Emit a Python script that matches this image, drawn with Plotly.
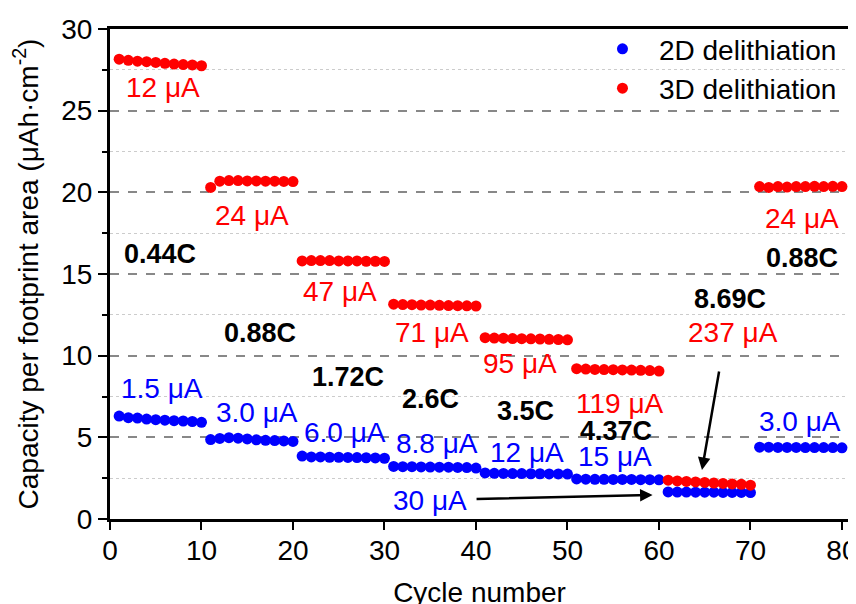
import plotly.graph_objects as go

cycles = list(range(1, 81))

cap_3d = [28.15, 28.08, 28.03, 28.0, 27.95, 27.9, 27.85, 27.82, 27.8, 27.75,
          20.3, 20.68, 20.72, 20.72, 20.7, 20.7, 20.68, 20.68, 20.67, 20.66,
          15.8, 15.82, 15.82, 15.82, 15.8, 15.8, 15.8, 15.78, 15.78, 15.77,
          13.15, 13.13, 13.12, 13.1, 13.1, 13.08, 13.07, 13.06, 13.05, 13.04,
          11.1, 11.08, 11.07, 11.05, 11.04, 11.03, 11.02, 11.0, 10.99, 10.97,
          9.2, 9.18, 9.16, 9.15, 9.14, 9.13, 9.12, 9.1, 9.09, 9.06,
          2.38, 2.33, 2.3, 2.27, 2.24, 2.2, 2.18, 2.15, 2.12, 2.07,
          20.35, 20.3, 20.35, 20.32, 20.35, 20.35, 20.37, 20.35, 20.37, 20.35]

cap_2d = [6.3, 6.2, 6.18, 6.12, 6.08, 6.05, 6.02, 6.0, 5.97, 5.92,
          4.86, 4.93, 4.98, 4.95, 4.9, 4.85, 4.82, 4.8, 4.78, 4.75,
          3.85, 3.8, 3.8, 3.78, 3.78, 3.77, 3.76, 3.75, 3.74, 3.72,
          3.22, 3.2, 3.2, 3.19, 3.18, 3.17, 3.17, 3.16, 3.15, 3.12,
          2.82, 2.8, 2.79, 2.78, 2.78, 2.77, 2.77, 2.76, 2.76, 2.75,
          2.45, 2.44, 2.43, 2.43, 2.42, 2.42, 2.42, 2.41, 2.41, 2.4,
          1.66, 1.65, 1.65, 1.64, 1.64, 1.64, 1.63, 1.63, 1.63, 1.62,
          4.4, 4.4, 4.38, 4.38, 4.38, 4.37, 4.37, 4.37, 4.37, 4.36]

# label text, x, y (data coordinates)
labels_3d = [("12 μA", 5.8, 26.4), ("24 μA", 15.5, 18.6), ("47 μA", 25.1, 13.9),
             ("71 μA", 35.2, 11.4), ("95 μA", 44.8, 9.55), ("119 μA", 55.7, 7.1),
             ("237 μA", 68.1, 11.4), ("24 μA", 75.6, 18.4)]
labels_2d = [("1.5 μA", 5.7, 8.0), ("3.0 μA", 16.1, 6.5), ("6.0 μA", 25.7, 5.27),
             ("8.8 μA", 35.7, 4.65), ("12 μA", 45.6, 4.1), ("15 μA", 55.2, 3.8),
             ("30 μA", 35.0, 1.16), ("3.0 μA", 75.4, 5.94)]
labels_rate = [("0.44C", 5.5, 16.2), ("0.88C", 16.4, 11.4), ("1.72C", 26.0, 8.7),
               ("2.6C", 35.0, 7.35), ("3.5C", 45.4, 6.6), ("4.37C", 55.3, 5.4),
               ("8.69C", 67.8, 13.5), ("0.88C", 75.6, 16.0)]
# arrows: (tail x, tail y, head x, head y)
arrows = [(39.9, 1.22, 59.3, 1.47), (66.6, 9.12, 64.7, 3.0)]

FONT = "Liberation Sans, Arial, sans-serif"

fig = go.Figure()
fig.add_trace(go.Scatter(x=cycles, y=cap_2d, mode="markers", name="2D delithiation",
                         marker=dict(color="#0000FF", size=11)))
fig.add_trace(go.Scatter(x=cycles, y=cap_3d, mode="markers", name="3D delithiation",
                         marker=dict(color="#FF0000", size=11)))

anns = []
for t, x, y in labels_3d:
    anns.append(dict(text=t, x=x, y=y, xref="x", yref="y", showarrow=False,
                     font=dict(family=FONT, size=28, color="#FF0000")))
for t, x, y in labels_2d:
    anns.append(dict(text=t, x=x, y=y, xref="x", yref="y", showarrow=False,
                     font=dict(family=FONT, size=28, color="#0000FF")))
for t, x, y in labels_rate:
    anns.append(dict(text="<b>" + t + "</b>", x=x, y=y, xref="x", yref="y", showarrow=False,
                     font=dict(family=FONT, size=27, color="#000000")))
for tx, ty, hx, hy in arrows:
    anns.append(dict(text="", x=hx, y=hy, ax=tx, ay=ty, xref="x", yref="y",
                     axref="x", ayref="y", showarrow=True, arrowhead=2,
                     arrowsize=1, arrowwidth=2.5, arrowcolor="#000000"))

fig.update_layout(
    width=856, height=604,
    margin=dict(l=102, r=15, t=21, b=93, autoexpand=False),
    paper_bgcolor="white", plot_bgcolor="white",
    font=dict(family=FONT, size=28, color="#000000"),
    annotations=anns,
    legend=dict(x=0.9905, y=1.01, xanchor="right", yanchor="top", bgcolor="rgba(0,0,0,0)",
                font=dict(family=FONT, size=28, color="#000000"),
                itemwidth=63, tracegroupgap=0),
    showlegend=True,
)
fig.update_xaxes(range=[0, 80.77], tickmode="linear", tick0=0, dtick=10,
                 showline=True, linewidth=3, linecolor="black", mirror=True,
                 ticks="outside", ticklen=8, tickwidth=2, tickcolor="black",
                 showgrid=False, zeroline=False, automargin=False,
                 ticklabelstandoff=-4,
                 tickfont=dict(family=FONT, size=28),
                 title=dict(text="Cycle number", font=dict(family=FONT, size=28), standoff=18))
fig.update_yaxes(range=[0, 30], tickmode="linear", tick0=0, dtick=5,
                 showline=True, linewidth=3, linecolor="black", mirror=True,
                 ticks="outside", ticklen=9, tickwidth=2, tickcolor="black",
                 showgrid=True, gridcolor="#888888", gridwidth=1.5, griddash="dash",
                 zeroline=False, automargin=False,
                 minor=dict(tick0=0, dtick=2.5, ticks="outside", ticklen=5, tickwidth=2,
                            tickcolor="black", showgrid=True, gridcolor="#cccccc",
                            gridwidth=1, griddash="dot"),
                 tickfont=dict(family=FONT, size=28),
                 title=dict(text="Capacity per footprint area (μAh·cm<sup>-2</sup>)",
                            font=dict(family=FONT, size=28), standoff=15))

fig.write_html("out.html")
